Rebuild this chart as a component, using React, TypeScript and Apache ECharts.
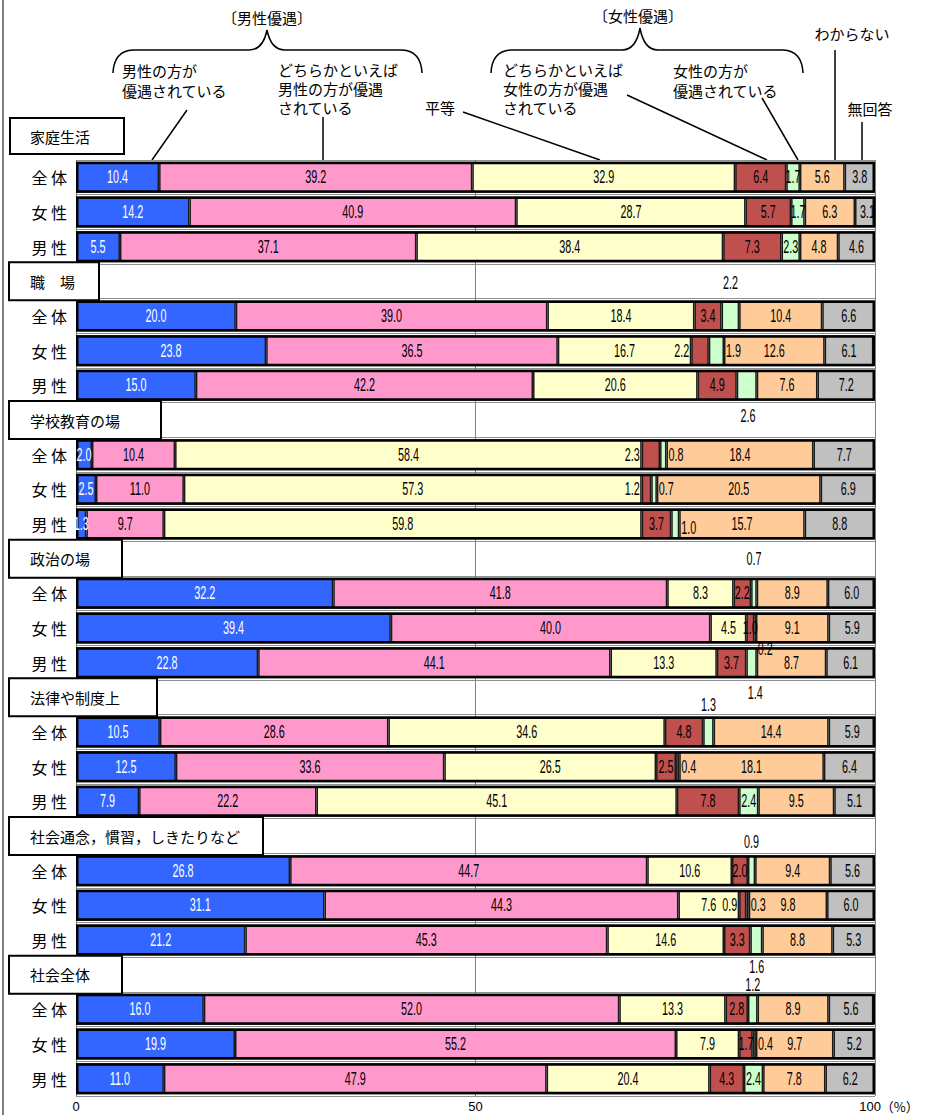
import React, { useEffect, useRef } from 'react';
import * as echarts from 'echarts';

// ---------- data ----------
const groups = ['家庭生活', '職　場', '学校教育の場', '政治の場', '法律や制度上', '社会通念，慣習，しきたりなど', '社会全体'];
const subLabels = ['全 体', '女 性', '男 性'];
const answerNames = [
  '男性の方が優遇されている',
  'どちらかといえば男性の方が優遇されている',
  '平等',
  'どちらかといえば女性の方が優遇されている',
  '女性の方が優遇されている',
  'わからない',
  '無回答',
];
// order per group: 全体, 女性, 男性
const male = [10.4, 14.2, 5.5, 20.0, 23.8, 15.0, 2.0, 2.5, 1.3, 32.2, 39.4, 22.8, 10.5, 12.5, 7.9, 26.8, 31.1, 21.2, 16.0, 19.9, 11.0];
const ratherMale = [39.2, 40.9, 37.1, 39.0, 36.5, 42.2, 10.4, 11.0, 9.7, 41.8, 40.0, 44.1, 28.6, 33.6, 22.2, 44.7, 44.3, 45.3, 52.0, 55.2, 47.9];
const equal = [32.9, 28.7, 38.4, 18.4, 16.7, 20.6, 58.4, 57.3, 59.8, 8.3, 4.5, 13.3, 34.6, 26.5, 45.1, 10.6, 7.6, 14.6, 13.3, 7.9, 20.4];
const ratherFemale = [6.4, 5.7, 7.3, 3.4, 2.2, 4.9, 2.3, 1.2, 3.7, 2.2, 1.0, 3.7, 4.8, 2.5, 7.8, 2.0, 0.9, 3.3, 2.8, 1.7, 4.3];
const female = [1.7, 1.7, 2.3, 2.2, 1.9, 2.5, 0.8, 0.7, 1.0, 0.7, 0.2, 1.3, 1.3, 0.4, 2.4, 0.9, 0.3, 1.5, 1.2, 0.4, 2.4];
const unknown = [5.6, 6.3, 4.8, 10.4, 12.6, 7.6, 18.4, 20.5, 15.7, 8.9, 9.1, 8.7, 14.4, 18.1, 9.5, 9.4, 9.8, 8.8, 8.9, 9.7, 7.8];
const noAnswer = [3.8, 3.1, 4.6, 6.6, 6.1, 7.2, 7.7, 6.9, 8.8, 6.0, 5.9, 6.1, 5.9, 6.4, 5.1, 5.6, 6.0, 5.3, 5.6, 5.2, 6.2];

// label placement for the narrow segments
const ratherFemalePos = ['in', 'in', 'in', 'in', 'left', 'in', 'left', 'left', 'in', 'in', 'in', 'in', 'in', 'in', 'in', 'in', 'left', 'in', 'in', 'in', 'in'];
const femalePos = ['in', 'in', 'in', 'top', 'right', 'none', 'right', 'right', 'right', 'top', 'bottom', 'none', 'top', 'right', 'in', 'top', 'right', 'none', 'top', 'right', 'in'];

// stray value texts printed in header rows
const extraText = ['2.6', '1.4', '1.6'];
const extraX = [84.1, 85.0, 85.2];
const extraGroup = [2, 4, 6];

const xTicks = [0, 50, 100];

// ---------- styles ----------
const colors = ['#3366FF', '#FF99CC', '#FFFFCC', '#C0504D', '#CCFFCC', '#FFCC99', '#C0C0C0'];
const NUM_FONT = "'Liberation Sans', Arial, sans-serif";
const JP_FONT = "'Noto Sans CJK JP', 'Noto Sans CJK SC', sans-serif";
const boxWidths = [114, 88, 150, 111, 146, 252, 111];
const topDist: Record<number, number> = { 3: 9, 9: 10, 12: 3, 15: 4, 18: 0 };
const extraDy = [-4, -4, -8];
const BAR_W = 31;

type Row = { kind: 'header' | 'bar'; group: number; sub: number };
const rows: Row[] = [];
groups.forEach((_, gi) => {
  if (gi > 0) rows.push({ kind: 'header', group: gi, sub: -1 });
  subLabels.forEach((_s, si) => rows.push({ kind: 'bar', group: gi, sub: si }));
});
const barRows: number[] = [];
rows.forEach((r, i) => { if (r.kind === 'bar') barRows.push(i); });
const headerRowOf = (g: number) => rows.findIndex((r) => r.kind === 'header' && r.group === g);

function brace(xL: number, xR: number, xc: number, yEnd: number, yMid: number, yPeak: number) {
  const st = { stroke: '#000', lineWidth: 1.5, fill: 'none' };
  return [
    { type: 'bezierCurve', shape: { x1: xL, y1: yEnd, x2: xL + 20, y2: yMid, cpx1: xL + 1, cpy1: yMid + 1 }, style: st },
    { type: 'line', shape: { x1: xL + 20, y1: yMid, x2: xc - 18, y2: yMid }, style: st },
    { type: 'bezierCurve', shape: { x1: xc - 18, y1: yMid, x2: xc, y2: yPeak, cpx1: xc - 4, cpy1: yMid }, style: st },
    { type: 'bezierCurve', shape: { x1: xc, y1: yPeak, x2: xc + 18, y2: yMid, cpx1: xc + 4, cpy1: yMid }, style: st },
    { type: 'line', shape: { x1: xc + 18, y1: yMid, x2: xR - 20, y2: yMid }, style: st },
    { type: 'bezierCurve', shape: { x1: xR - 20, y1: yMid, x2: xR, y2: yEnd, cpx1: xR - 1, cpy1: yMid + 1 }, style: st },
  ];
}

function txt(text: string, x: number, y: number, align = 'left', lineHeight = 19, verticalAlign = 'top', fontSize = 15) {
  return { type: 'text', x, y, style: { text, fill: '#000', fontSize, fontFamily: JP_FONT, align, verticalAlign, lineHeight } };
}

function ln(x1: number, y1: number, x2: number, y2: number) {
  return { type: 'line', shape: { x1, y1, x2, y2 }, style: { stroke: '#000', lineWidth: 1.5 } };
}

type LabelItem = { row: number; start: number; v: number; mode: string; text: string; color: string; k: number; dy?: number };

export default function App() {
  const ref = useRef<HTMLDivElement>(null);
  useEffect(() => {
    document.body.style.margin = '0';
    const chart = echarts.init(ref.current!, null, { renderer: 'svg' });
    const seriesValues = [male, ratherMale, equal, ratherFemale, female, unknown, noAnswer];
    const placements: (string[] | null)[] = [null, null, null, ratherFemalePos, femalePos, null, null];

    const barSeries = seriesValues.map((vals, si) => {
      const data: any[] = rows.map(() => null);
      barRows.forEach((ri, k) => { data[ri] = vals[k]; });
      return {
        type: 'bar',
        name: answerNames[si],
        stack: 'total',
        barWidth: BAR_W,
        barGap: '-100%',
        itemStyle: { color: colors[si], borderColor: '#1a1a1a', borderWidth: 1.5 },
        data,
      };
    });

    // value labels, positioned from the stacked values through the axes
    const items: LabelItem[] = [];
    barRows.forEach((ri, k) => {
      let cum = 0;
      seriesValues.forEach((vals, si) => {
        const v = vals[k];
        const mode = placements[si] ? placements[si]![k] : 'in';
        if (mode !== 'none') {
          items.push({ row: ri, start: cum, v, mode, text: v.toFixed(1), color: si === 0 ? '#fff' : '#000', k });
        }
        cum += v;
      });
    });
    extraText.forEach((t, i) => {
      items.push({ row: headerRowOf(extraGroup[i]), start: extraX[i], v: 0, mode: 'note', text: t, color: '#000', k: -1, dy: extraDy[i] });
    });

    const renderLabel = (params: any, api: any) => {
      const it = items[params.dataIndex];
      const p0 = api.coord([it.start, it.row]);
      const p1 = api.coord([it.start + it.v, it.row]);
      const yc = p0[1];
      const half = BAR_W / 2;
      let x = (p0[0] + p1[0]) / 2;
      let y = yc;
      let align = 'center';
      let va = 'middle';
      switch (it.mode) {
        case 'left': x = p0[0] - 2; align = 'right'; break;
        case 'right': x = p1[0] + 2; align = 'left'; if (it.k === 8) y += 4; break;
        case 'top': y = yc - half - (topDist[it.k] ?? 4); va = 'bottom'; break;
        case 'bottom': x += 10; y = yc + half - 4; va = 'top'; break;
        case 'note': x = p0[0]; y = yc + (it.dy || 0); break;
        default: break;
      }
      return {
        type: 'text', x, y, scaleX: 0.6, z2: 20,
        style: { text: it.text, fill: it.color, fontSize: 18, fontFamily: NUM_FONT, align, verticalAlign: va },
      };
    };

    const frameData: any[] = rows.map((r) => (r.kind === 'bar' ? 100 : null));

    const rich: any = {
      r: { width: 57, align: 'right', fontSize: 16, fontFamily: JP_FONT, color: '#000' },
    };
    boxWidths.forEach((w, g) => {
      rich['b' + g] = {
        backgroundColor: '#fff', borderColor: '#000', borderWidth: 2,
        padding: [9, 0, 9, 20], width: w - 20, height: 18, lineHeight: 18,
        fontSize: 15, fontFamily: JP_FONT, color: '#000', align: 'left',
      };
    });

    const option: any = {
      animation: false,
      grid: { left: 76, right: 54, top: 160, bottom: 19, containLabel: false },
      xAxis: {
        type: 'value', min: xTicks[0], max: xTicks[2], interval: 50,
        axisLine: { show: false }, axisTick: { show: false },
        splitLine: { show: true, lineStyle: { color: '#808080', width: 1 } },
        axisLabel: {
          margin: 3, color: '#000', fontSize: 13, lineHeight: 14, fontFamily: JP_FONT,
          formatter: (v: number) => (v === 100 ? '{pad| }{n|100}{p|（%）}' : `{n|${v}}`),
          rich: {
            n: { fontSize: 13, lineHeight: 14, fontFamily: NUM_FONT, color: '#000' },
            pad: { width: 28, fontSize: 13, lineHeight: 14 },
            p: { fontSize: 13, lineHeight: 14, fontFamily: JP_FONT, color: '#000' },
          },
        },
      },
      yAxis: {
        type: 'category', inverse: true,
        data: rows.map((r) => (r.kind === 'bar' ? subLabels[r.sub] : groups[r.group])),
        axisLine: { show: false }, axisTick: { show: false },
        splitLine: { show: true, lineStyle: { color: '#909090', width: 1 } },
        axisLabel: {
          interval: 0, align: 'left', margin: 66,
          formatter: (v: string, i: number) => {
            const r = rows[i];
            return r.kind === 'bar' ? `{r|${v}}` : `{b${r.group}|${v}}`;
          },
          rich,
        },
      },
      series: [
        ...barSeries,
        {
          type: 'bar', name: 'frame', barWidth: BAR_W, barGap: '-100%', silent: true, z: 3,
          itemStyle: { color: 'rgba(0,0,0,0)', borderColor: '#000', borderWidth: 2.5 },
          data: frameData,
        },
        {
          type: 'custom', name: 'labels', silent: true, z: 10, clip: false,
          renderItem: renderLabel,
          data: items.map((it) => [it.start + it.v / 2, it.row]),
        },
      ],
      graphic: [
        { type: 'line', shape: { x1: 3, y1: 0, x2: 3, y2: 1115 }, style: { stroke: '#555', lineWidth: 1.5 } },
        txt('〔男性優遇〕', 267, 17, 'center', 19, 'middle'),
        txt('〔女性優遇〕', 638, 15, 'center', 19, 'middle'),
        ...brace(113, 422, 267, 73, 50, 30),
        ...brace(491, 803, 640, 73, 50, 28),
        txt('男性の方が\n優遇されている', 122, 60, 'left', 20),
        txt('どちらかといえば\n男性の方が優遇\nされている', 278, 60, 'left', 19),
        txt('平等', 425, 107, 'left', 19, 'middle'),
        txt('どちらかといえば\n女性の方が優遇\nされている', 503, 60, 'left', 19),
        txt('女性の方が\n優遇されている', 673, 60, 'left', 20),
        txt('わからない', 852, 33, 'center', 19, 'middle'),
        txt('無回答', 870, 108, 'center', 19, 'middle'),
        ln(187, 110, 152, 160),
        ln(323, 117, 323, 160),
        ln(463, 112, 600, 160),
        ln(627, 95, 767, 160),
        ln(762, 98, 798, 160),
        ln(835, 50, 835, 160),
        ln(862, 122, 862, 160),
        { type: 'rect', shape: { x: 10, y: 118, width: 114, height: 36 }, style: { fill: '#fff', stroke: '#000', lineWidth: 2 } },
        { type: 'text', x: 30, y: 136, style: { text: groups[0], fill: '#000', fontSize: 15, fontFamily: JP_FONT, verticalAlign: 'middle', align: 'left' } },
      ],
    };
    chart.setOption(option);
    return () => chart.dispose();
  }, []);
  return <div ref={ref} style={{ width: 929, height: 1115 }} />;
}
